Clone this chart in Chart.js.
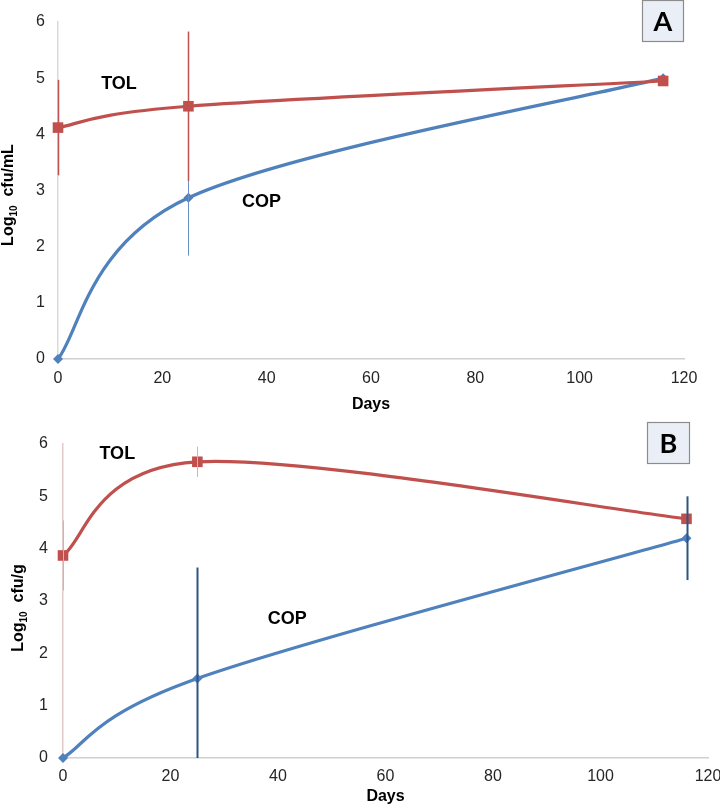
<!DOCTYPE html>
<html>
<head>
<meta charset="utf-8">
<script src="https://cdn.jsdelivr.net/npm/chart.js@4.4.1/dist/chart.umd.min.js"></script>
<style>
  html, body { margin: 0; padding: 0; background: #ffffff; }
  #wrapA { position: absolute; left: 0; top: 0; width: 720px; height: 420px; }
  #wrapB { position: absolute; left: 0; top: 400px; width: 720px; height: 406px; }
</style>
</head>
<body>
<div id="wrapA"><canvas id="chartA"></canvas></div>
<div id="wrapB"><canvas id="chartB"></canvas></div>
<script>
// ---------- DATA ----------
const days = [0, 25, 116];
const xTicks = [0, 20, 40, 60, 80, 100, 120];
const yTicks = [0, 1, 2, 3, 4, 5, 6];

// Panel A (Log10 cfu/mL)
const tolA = [4.12, 4.50, 4.95];
const tolAErr = [0.85, 1.33, 0];
const copA = [0.00, 2.87, 5.00];
const copAErr = [0, 1.03, 0];

// Panel B (Log10 cfu/g)
const tolB = [3.87, 5.66, 4.57];
const tolBErr = [0.67, 0.29, 0];
const copB = [0.00, 1.52, 4.20];
const copBErr = [0, 2.12, 0.80];

// Labels placed in data coordinates [x, y]
const labelPosA = { TOL: [11.7, 4.89], COP: [39.0, 2.80] };
const labelPosB = { TOL: [10.1, 5.81], COP: [41.7, 2.66] };

// ---------- STYLE ----------
const RED = '#C0504D';
const BLUE = '#4F81BD';
const TICK_FONT = "'Liberation Sans', Arial, sans-serif";

function pts(xs, ys) { return xs.map((x, i) => ({ x: x, y: ys[i] })); }

// Spreadsheet-style smoothing: uniform Catmull-Rom control points (computed from the
// library's own point positions).
const smoothPlugin = {
  id: 'smooth',
  beforeDatasetsDraw(chart) {
    chart.getSortedVisibleDatasetMetas().forEach(meta => {
      const line = meta.dataset;
      if (!line) return;
      line.updateControlPoints(chart.chartArea, 'x');
      const p = meta.data;
      const n = p.length;
      for (let i = 0; i < n; i++) {
        const prev = p[Math.max(i - 1, 0)];
        const next = p[Math.min(i + 1, n - 1)];
        const dx = (next.x - prev.x) / 6, dy = (next.y - prev.y) / 6;
        p[i].cp1x = p[i].x - dx; p[i].cp1y = p[i].y - dy;
        p[i].cp2x = p[i].x + dx; p[i].cp2y = p[i].y + dy;
      }
    });
  }
};

const errorBarPlugin = {
  id: 'errorBars',
  afterDatasetsDraw(chart, args, opts) {
    const ctx = chart.ctx;
    const xs = chart.scales.x, ys = chart.scales.y;
    const area = chart.chartArea;
    ctx.save();
    ctx.beginPath();
    ctx.rect(area.left - 5, area.top - 30, area.right - area.left + 10, area.bottom - area.top + 30);
    ctx.clip();
    (opts.bars || []).forEach(b => {
      ctx.strokeStyle = b.color;
      ctx.lineWidth = b.width;
      b.y.forEach((v, i) => {
        const e = b.err[i];
        if (!e) return;
        const px = Math.round(xs.getPixelForValue(b.x[i])) + 0.5;
        ctx.beginPath();
        ctx.moveTo(px, ys.getPixelForValue(v + e));
        ctx.lineTo(px, ys.getPixelForValue(v - e));
        ctx.stroke();
      });
    });
    ctx.restore();
  }
};

const decorPlugin = {
  id: 'decor',
  afterDraw(chart, args, o) {
    const ctx = chart.ctx;
    const xs = chart.scales.x, ys = chart.scales.y;
    const area = chart.chartArea;
    ctx.save();
    ctx.fillStyle = '#000';
    ctx.font = "bold 18px 'Liberation Sans', Arial, sans-serif";
    ctx.textAlign = 'center';
    ctx.textBaseline = 'middle';
    Object.keys(o.labels).forEach(k => {
      const p = o.labels[k];
      ctx.fillText(k, xs.getPixelForValue(p[0]), ys.getPixelForValue(p[1]));
    });
    ctx.font = "bold 16px 'Liberation Sans', Arial, sans-serif";
    ctx.fillText('Days', (area.left + area.right) / 2, o.xTitleY);
    ctx.translate(o.yTitleX, o.yTitleY);
    ctx.rotate(-Math.PI / 2);
    const f1 = "bold 16px 'Liberation Sans', Arial, sans-serif";
    const f2 = "bold 10px 'Liberation Sans', Arial, sans-serif";
    const p1 = 'Log', p2 = '10', p3 = '  ' + o.unit;
    ctx.font = f1; const w1 = ctx.measureText(p1).width; const w3 = ctx.measureText(p3).width;
    ctx.font = f2; const w2 = ctx.measureText(p2).width;
    const x0 = -(w1 + w2 + w3) / 2;
    ctx.textAlign = 'left';
    ctx.font = f1; ctx.fillText(p1, x0, 0);
    ctx.font = f2; ctx.fillText(p2, x0 + w1, 5);
    ctx.font = f1; ctx.fillText(p3, x0 + w1 + w2, 0);
    ctx.setTransform(1, 0, 0, 1, 0, 0);
    const bx = o.box;
    ctx.fillStyle = '#EAEFF7';
    ctx.fillRect(bx[0], bx[1], bx[2], bx[3]);
    ctx.strokeStyle = '#8C8C8C';
    ctx.lineWidth = 1.2;
    ctx.strokeRect(bx[0] + 0.5, bx[1] + 0.5, bx[2] - 1, bx[3] - 1);
    ctx.fillStyle = '#000';
    ctx.font = "bold 27px Lato, 'Open Sans', sans-serif";
    ctx.textAlign = 'center';
    ctx.textBaseline = 'middle';
    ctx.fillText(o.letter, bx[0] + bx[2] / 2, bx[1] + bx[3] / 2 + 1);
    ctx.restore();
  }
};

function makeChart(id, cfg) {
  return new Chart(document.getElementById(id), {
    type: 'line',
    data: {
      datasets: [
        {
          label: 'TOL', data: pts(days, cfg.tol),
          borderColor: RED, backgroundColor: RED, borderWidth: 3.2,
          tension: 0.4, pointStyle: 'rect', pointRadius: 7.5, pointBorderWidth: 0,
          pointHoverRadius: 7.5, clip: false, order: 1
        },
        {
          label: 'COP', data: pts(days, cfg.cop),
          borderColor: BLUE, backgroundColor: BLUE, borderWidth: 3.2,
          tension: 0.4, pointStyle: 'rectRot', pointRadius: 5, pointBorderWidth: 0,
          pointHoverRadius: 5, clip: false, order: 2
        }
      ]
    },
    options: {
      responsive: true,
      maintainAspectRatio: false,
      animation: false,
      events: [],
      layout: { padding: cfg.padding },
      plugins: {
        legend: { display: false },
        tooltip: { enabled: false },
        errorBars: { bars: cfg.bars },
        decor: cfg.decor
      },
      scales: {
        x: {
          type: 'linear', min: 0, max: 120,
          afterBuildTicks: s => { s.ticks = xTicks.map(v => ({ value: v })); },
          afterFit: s => { s.height = cfg.xAxisH; s.paddingLeft = 0; s.paddingRight = 0; },
          grid: { display: false, drawTicks: false },
          border: { display: true, color: '#D0D0D0', width: 1.5 },
          ticks: { padding: cfg.xPad, color: '#262626', font: { family: TICK_FONT, size: 16 }, maxRotation: 0 }
        },
        y: {
          type: 'linear', min: 0, max: 6,
          afterBuildTicks: s => { s.ticks = yTicks.map(v => ({ value: v })); },
          afterFit: s => { s.width = cfg.yAxisW; s.paddingTop = 0; s.paddingBottom = 0; },
          grid: { display: false, drawTicks: false },
          border: { display: true, color: cfg.yAxisColor, width: 1.5 },
          ticks: { padding: cfg.yPad, color: '#262626', font: { family: TICK_FONT, size: 16 } }
        }
      }
    },
    plugins: [smoothPlugin, errorBarPlugin, decorPlugin]
  });
}

makeChart('chartA', {
  tol: tolA, cop: copA,
  padding: { left: 0, top: 22, right: 36, bottom: 20 },
  xAxisH: 41, yAxisW: 58, xPad: 10, yPad: 13, yAxisColor: '#D9D9D9',
  bars: [
    { x: days, y: copA, err: copAErr, color: '#6A8FC4', width: 1 },
    { x: days, y: tolA, err: tolAErr, color: RED, width: 1.5 }
  ],
  decor: { labels: labelPosA, xTitleY: 405, yTitleX: 9, yTitleY: 195, unit: 'cfu/mL', box: [642, 0, 42, 42], letter: 'A' }
});

makeChart('chartB', {
  tol: tolB, cop: copB,
  padding: { left: 0, top: 44, right: 12, bottom: 0 },
  xAxisH: 48, yAxisW: 63, xPad: 9, yPad: 15, yAxisColor: '#E2CACA',
  bars: [
    { x: days, y: copB, err: copBErr, color: '#2F5383', width: 2 },
    { x: days, y: tolB, err: tolBErr, color: '#E8AAA8', width: 1 }
  ],
  decor: { labels: labelPosB, xTitleY: 397, yTitleX: 19, yTitleY: 208, unit: 'cfu/g', box: [647, 22, 43, 42], letter: 'B' }
});
</script>
</body>
</html>
